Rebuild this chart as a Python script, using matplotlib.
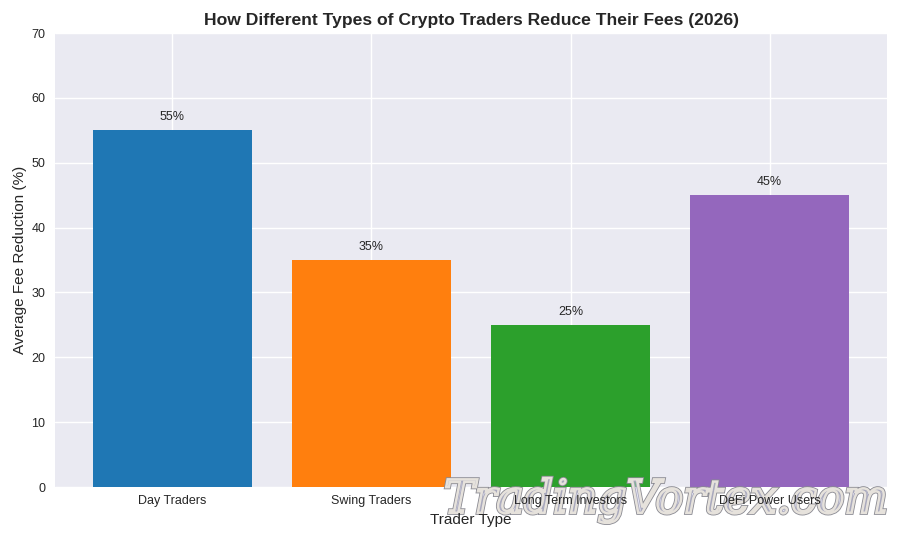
import matplotlib.pyplot as plt
import matplotlib.patheffects as pe

plt.style.use('seaborn-v0_8')
plt.rcParams['font.family'] = ['Liberation Sans', 'DejaVu Sans']

# valeurs
trader_types = ['Day Traders', 'Swing Traders', 'Long Term Investors', 'DeFi Power Users']
fee_reduction = [55, 35, 25, 45]
bar_colors = ['#1f77b4', '#ff7f0e', '#2ca02c', '#9467bd']

fig, ax = plt.subplots(figsize=(9, 5.4), dpi=100)
fig.subplots_adjust(left=55/900, right=887/900, top=1-33/540, bottom=1-487/540)

bars = ax.bar(trader_types, fee_reduction, color=bar_colors)
for bar, val in zip(bars, fee_reduction):
    ax.annotate(f'{val}%', (bar.get_x() + bar.get_width()/2, val), xytext=(0, 5),
                textcoords='offset points', ha='center', va='bottom', fontsize=9, color='#262626')

ax.set_ylim(0, 70)
ax.tick_params(labelsize=9)
ax.tick_params(axis='x', labelbottom=False)
ax.set_title('How Different Types of Crypto Traders Reduce Their Fees (2026)',
             fontsize=12.6, fontweight='bold', color='#262626', pad=6)
ax.set_ylabel('Average Fee Reduction (%)', fontsize=11, labelpad=3)

# axe transparent au-dessus du filigrane, pour garder les libelles x lisibles
ax_top = fig.add_axes(ax.get_position(), facecolor='none', zorder=2)
ax_top.set_xlim(ax.get_xlim())
ax_top.set_xticks(range(len(trader_types)), trader_types)
ax_top.set_yticks([])
ax_top.grid(False)
ax_top.tick_params(axis='x', labelsize=9, pad=6)
ax_top.set_xlabel('Trader Type', fontsize=11, labelpad=4)
for spine in ax_top.spines.values():
    spine.set_visible(False)

# filigrane
fig.text(666/900, 1-500/540, 'TradingVortex.com', ha='center', va='center', zorder=1,
         family='DejaVu Serif', style='italic', fontsize=33,
         path_effects=[pe.PathPatchEffect(edgecolor='#8a8a92', facecolor='none', linewidth=3),
                       pe.PathPatchEffect(edgecolor='#e6e2dc', facecolor=(0.82, 0.82, 0.95, 0.45), linewidth=1.8)])

fig.savefig('out.png', dpi=100)
